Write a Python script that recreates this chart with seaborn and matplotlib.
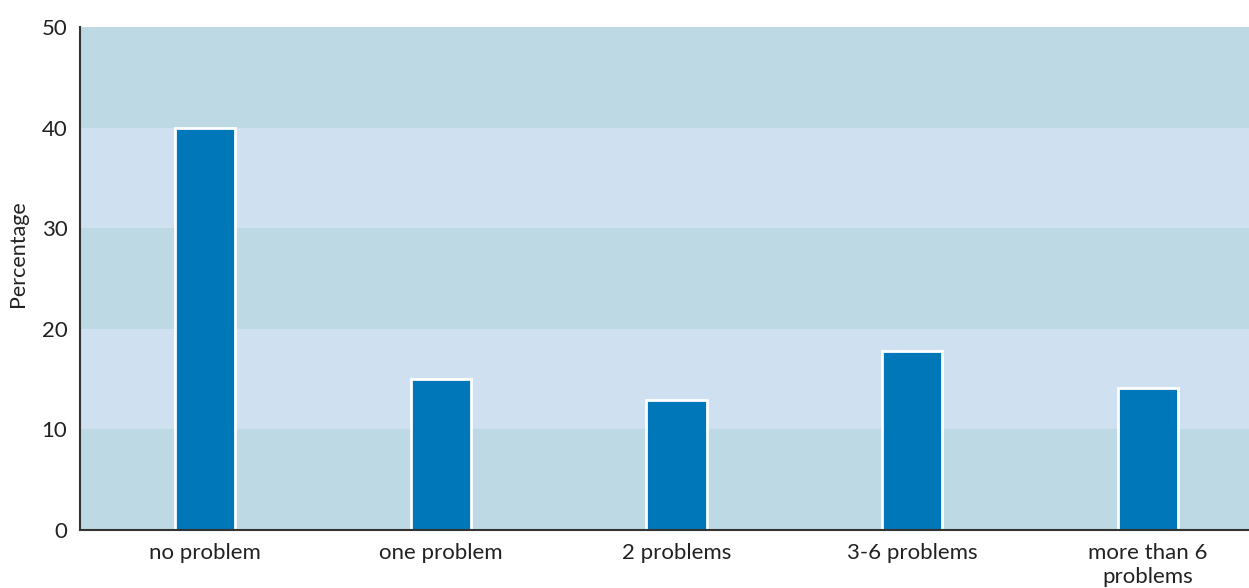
import matplotlib
matplotlib.use("Agg")
import matplotlib.pyplot as plt
import seaborn as sns
import pandas as pd

categories = ["no problem", "one problem", "2 problems", "3-6 problems", "more than 6\nproblems"]
percentages = [40.0, 15.0, 12.9, 17.8, 14.1]
y_ticks = [0, 10, 20, 30, 40, 50]

sns.set_theme(style="white")
plt.rcParams["font.family"] = ["Lato", "DejaVu Sans"]

df = pd.DataFrame({"category": categories, "percentage": percentages})

fig = plt.figure(figsize=(12.49, 5.88), dpi=100)
ax = fig.add_axes([0.064, 0.0986, 0.936, 0.8554])

# alternating horizontal bands behind the bars
band_dark = "#bdd9e4"
band_light = "#cfe0f1"
for i, lo in enumerate(y_ticks[:-1]):
    ax.axhspan(lo, y_ticks[i + 1], color=band_dark if i % 2 == 0 else band_light,
               zorder=0, lw=0)

sns.barplot(data=df, x="category", y="percentage", color="#0077b8",
            saturation=1, width=0.255, edgecolor="white", linewidth=2,
            ax=ax, zorder=2)

ax.set_xlim(-0.531, 4.429)
ax.set_ylim(0, 50)
ax.set_yticks(y_ticks)
ax.set_xlabel("")
ax.set_ylabel("Percentage", fontsize=15.5, color="#222222")
ax.yaxis.set_label_coords(-0.044, 0.55)
ax.tick_params(axis="both", length=0, labelsize=16, colors="#222222")
ax.tick_params(axis="x", pad=9)
ax.tick_params(axis="y", pad=9)
for lbl in ax.get_xticklabels():
    lbl.set_linespacing(1.25)

for side in ["top", "right"]:
    ax.spines[side].set_visible(False)
for side in ["left", "bottom"]:
    ax.spines[side].set_color("#333333")
    ax.spines[side].set_linewidth(1.5)
    ax.spines[side].set_zorder(3)

fig.savefig("out.png", dpi=100)
